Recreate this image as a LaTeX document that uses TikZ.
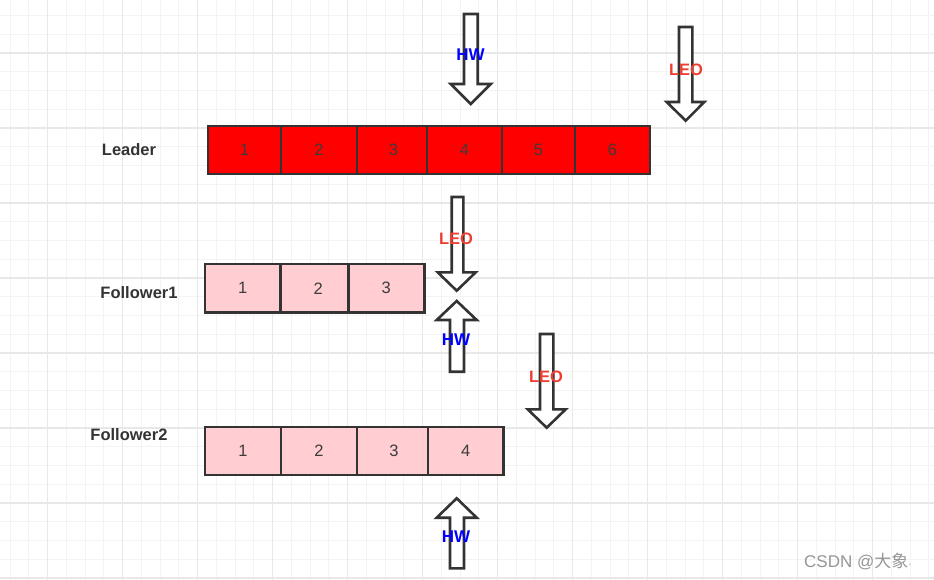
\documentclass[tikz,border=0pt]{standalone}
\usepackage{fontspec}
\setmainfont{Liberation Sans}
\newfontfamily\cjkfont{Noto Sans CJK SC}
\definecolor{edge}{RGB}{51,51,51}
\definecolor{numc}{RGB}{60,60,60}
\definecolor{leaderred}{RGB}{255,0,0}
\definecolor{pinkc}{RGB}{255,205,210}
\definecolor{hwblue}{RGB}{0,0,255}
\definecolor{leored}{RGB}{238,62,50}
\definecolor{gridminor}{RGB}{243,243,243}
\definecolor{gridmajor}{RGB}{232,232,232}
\definecolor{wmgray}{RGB}{150,150,150}
\tikzset{
  cellbox/.style={draw=edge, line width=2.6pt, inner sep=0pt, minimum height=48pt,
    font=\fontsize{16.5}{18}\selectfont, text=numc},
  leadercell/.style={cellbox, fill=leaderred},
  pinkcell/.style={cellbox, fill=pinkc},
  rowlabel/.style={font=\bfseries\fontsize{16.5}{19}\selectfont, text=edge},
  hwlabel/.style={font=\bfseries\fontsize{17}{19}\selectfont, text=hwblue},
  leolabel/.style={font=\bfseries\fontsize{16.5}{19}\selectfont, text=leored},
  bigarrow/.style={draw=edge, line width=2.6pt, fill=white, line join=miter},
}
\begin{document}
\begin{tikzpicture}[x=1pt,y=-1pt]
\useasboundingbox (0,0) rectangle (934,580);
\fill[white] (0,0) rectangle (934,580);
% grid
\foreach \i in {0,...,49} { \draw[gridminor, line width=1pt] ({10+18.75*\i},0) -- ({10+18.75*\i},580); }
\foreach \j in {0,...,30} { \draw[gridminor, line width=1pt] (0,{15.5+18.75*\j}) -- (934,{15.5+18.75*\j}); }
\foreach \i in {0,...,11} { \draw[gridmajor, line width=1.2pt] ({47.5+75*\i},0) -- ({47.5+75*\i},580); }
\foreach \j in {0,...,7} { \draw[gridmajor, line width=1.2pt] (0,{53+75*\j}) -- (934,{53+75*\j}); }

% row labels
\node[rowlabel] (lblLeader) at (129,150) {Leader};
\node[rowlabel] (lblF1) at (139,293) {Follower1};
\node[rowlabel] (lblF2) at (129,435) {Follower2};

% Leader cells
\node[leadercell, minimum width=73pt] (L1) at (244.5,150) {1};
\node[leadercell, minimum width=76pt] (L2) at (319,150) {2};
\node[leadercell, minimum width=70pt] (L3) at (392,150) {\hspace*{3pt}3};
\node[leadercell, minimum width=75pt] (L4) at (464.5,150) {4};
\node[leadercell, minimum width=73pt] (L5) at (538.5,150) {5};
\node[leadercell, minimum width=75pt] (L6) at (612.5,150) {6};

% Follower1 cells
\node[pinkcell, minimum width=75.3pt, minimum height=48.5pt] (A1) at (242.65,288.25) {1};
\node[pinkcell, minimum width=68pt, minimum height=48.5pt] (A2) at (314.3,288.25) {\hspace*{8pt}2};
\node[pinkcell, minimum width=76pt, minimum height=48.5pt] (A3) at (386.3,288.25) {3};

% Follower2 cells
\node[pinkcell, minimum width=76pt] (B1) at (243,451) {1};
\node[pinkcell, minimum width=76pt] (B2) at (319,451) {2};
\node[pinkcell, minimum width=71pt] (B3) at (392.5,451) {\hspace*{3pt}3};
\node[pinkcell, minimum width=75.3pt] (B4) at (465.6,451) {4};

% arrows (down)
% Leader HW
\draw[bigarrow] (464,14) -- (477.7,14) -- (477.7,84) -- (490.7,84) -- (470.7,104) -- (450.7,84) -- (464,84) -- cycle;
% Leader LEO
\draw[bigarrow] (679,27) -- (692.3,27) -- (692.3,102) -- (704.3,102) -- (685.7,120.7) -- (666.7,102) -- (679,102) -- cycle;
% Follower1 LEO
\draw[bigarrow] (451.7,197) -- (463.3,197) -- (463.3,272.3) -- (475.7,272.3) -- (456.7,290.7) -- (437.7,272.3) -- (451.7,272.3) -- cycle;
% Follower1 HW (up)
\draw[bigarrow] (450,371.7) -- (464,371.7) -- (464,320) -- (476.7,320) -- (456.7,301) -- (436.7,320) -- (450,320) -- cycle;
% Follower2 LEO
\draw[bigarrow] (540,334) -- (553.3,334) -- (553.3,409.3) -- (565.7,409.3) -- (546.7,427.7) -- (527.7,409.3) -- (540,409.3) -- cycle;
% Follower2 HW (up)
\draw[bigarrow] (450,568.3) -- (464,568.3) -- (464,517.7) -- (476.7,517.7) -- (456.7,498.3) -- (436.7,517.7) -- (450,517.7) -- cycle;

% arrow labels
\node[hwlabel] (hw0) at (470.5,55) {HW};
\node[leolabel] (leo0) at (686,69.5) {LEO};
\node[leolabel] (leo1) at (456,238.5) {LEO};
\node[hwlabel] (hw1) at (456,340) {HW};
\node[leolabel] (leo2) at (546,376.5) {LEO};
\node[hwlabel] (hw2) at (456,537) {HW};

% watermark
\node[text=wmgray, font=\fontsize{17}{19}\selectfont, anchor=west, inner sep=0pt] (wm) at (804,561) {CSDN @{\cjkfont 大象}{\fontsize{10}{12}\selectfont·}};
\end{tikzpicture}
\end{document}
